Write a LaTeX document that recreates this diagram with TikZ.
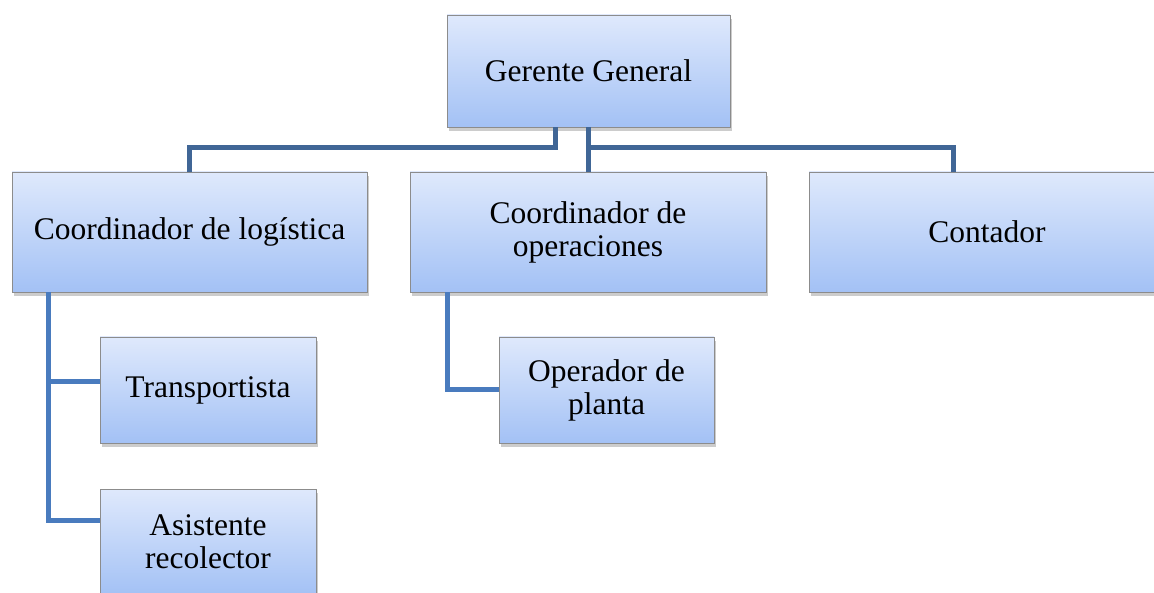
\documentclass[tikz,border=0pt]{standalone}
\usepackage{fontspec}
\setmainfont{Liberation Serif}
\usepackage{tikz}
\usetikzlibrary{shadows}
\definecolor{boxtop}{RGB}{223,233,252}
\definecolor{boxbottom}{RGB}{163,193,245}
\definecolor{boxline}{RGB}{140,140,140}
\definecolor{linktop}{RGB}{64,102,150}
\definecolor{linklow}{RGB}{73,123,190}

\begin{document}
\begin{tikzpicture}[x=1pt, y=-1pt,
    puesto/.style={draw=boxline, line width=0.8pt, rectangle, inner sep=0pt, align=center,
        top color=boxtop, bottom color=boxbottom,
        drop shadow={shadow xshift=2pt, shadow yshift=-4pt, opacity=0.4},
        font=\fontsize{31.5}{33}\selectfont},
    enlace/.style={draw=linktop, line width=5pt},
    enlacebajo/.style={draw=linklow, line width=5pt}]
\useasboundingbox (0,0) rectangle (1154,593);

\node [puesto, minimum width=283pt, minimum height=112pt] (gerente) at (588.5,71) {Gerente General};
\node [puesto, minimum width=355pt, minimum height=120pt] (logistica) at (189.5,232) {Coordinador de logística};
\node [puesto, minimum width=356pt, minimum height=120pt] (operaciones) at (588,232) {Coordinador de\\operaciones};
\node [puesto, minimum width=356pt, minimum height=120pt] (contador) at (987,232) {Contador};
\node [puesto, minimum width=216pt, minimum height=106pt] (transportista) at (208,390) {Transportista};
\node [puesto, minimum width=216pt, minimum height=106pt] (asistente) at (208,542) {Asistente\\recolector};
\node [puesto, minimum width=215pt, minimum height=106pt] (operador) at (606.5,390) {Operador de\\planta};

\coordinate (busizq) at (555,148);
\coordinate (busder) at (588,148);
\coordinate (buscont) at (953,148);
\coordinate (troncolog) at (48,292);
\coordinate (troncoop) at (447,292);

\draw [enlace] (gerente.south -| busizq) -- (busizq) -| (logistica.north);
\draw [enlace] (gerente.south -| busder) -- (operaciones.north -| busder);
\draw [enlace] (busder) -| (contador.north -| buscont);
\draw [enlacebajo] (logistica.south -| troncolog) |- ([yshift=8pt]transportista.west);
\draw [enlacebajo] (logistica.south -| troncolog) |- ([yshift=22pt]asistente.west);
\draw [enlacebajo] (operaciones.south -| troncoop) |- (operador.west);
\end{tikzpicture}
\end{document}
